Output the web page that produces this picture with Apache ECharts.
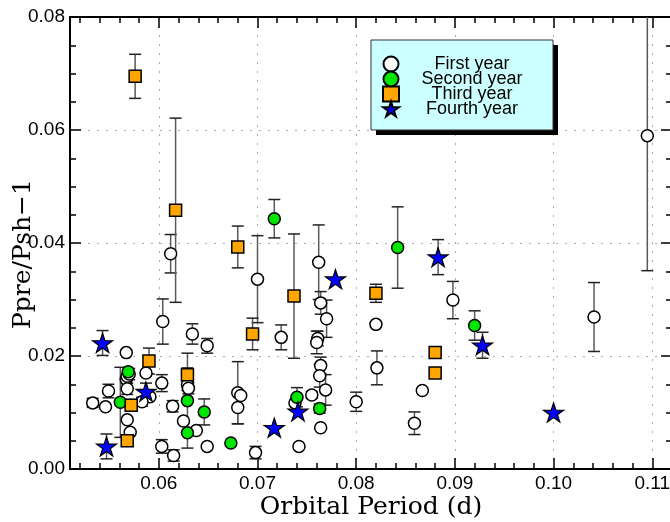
<!DOCTYPE html>
<html>
<head>
<meta charset="utf-8">
<script src="https://cdn.jsdelivr.net/npm/echarts@6/dist/echarts.min.js"></script>
<style>html,body{margin:0;padding:0;background:#fff}#c{width:670px;height:522px}</style>
</head>
<body>
<div id="c"></div>
<script>
// ---- data: [period (d), Ppre/Psh-1, error] ----
const firstX = [0.1095,0.1041,0.0898,0.0820,0.0821,0.0867,0.0859,0.0800,0.0762,0.0764,0.0770,0.0761,0.0760,0.0764,0.0763,0.0769,0.0755,0.0764,0.0742,0.0738,0.0649,0.0724,0.0680,0.0683,0.0680,0.0649,0.0698,0.0638,0.0612,0.0700,0.0604,0.0634,0.0567,0.0567,0.0568,0.0570,0.0587,0.0549,0.0533,0.0546,0.0568,0.0603,0.0591,0.0583,0.0568,0.0571,0.0614,0.0625,0.0603,0.0615,0.0629,0.0630];
const firstY = [0.0590,0.0269,0.0299,0.0256,0.0179,0.0139,0.0081,0.0119,0.0366,0.0294,0.0266,0.0231,0.0224,0.0183,0.0165,0.0140,0.0131,0.0073,0.0040,0.0117,0.0218,0.0233,0.0135,0.0130,0.0109,0.0040,0.0029,0.0068,0.0381,0.0336,0.0261,0.0239,0.0206,0.0159,0.0164,0.0168,0.0170,0.0138,0.0117,0.0110,0.0142,0.0152,0.0128,0.0119,0.0087,0.0065,0.0111,0.0085,0.0040,0.0024,0.0149,0.0143];
const firstE = [0.0239,0.0061,0.0033,0,0.0030,0,0.0020,0.0017,0.0066,0.0020,0.0033,0.0013,0.0020,0.0015,0.0020,0.0027,0.0006,0,0,0,0.0013,0.0022,0.0055,0,0.0029,0,0.0011,0,0.0034,0.0077,0.0040,0.0018,0,0.0008,0,0.0010,0,0.0012,0.0008,0,0.0010,0.0015,0,0.0008,0,0,0.0010,0,0.0012,0.0010,0.0010,0.0010];

const secondX = [0.0717,0.0842,0.0920,0.0763,0.0740,0.0569,0.0561,0.0629,0.0629,0.0646,0.0673];
const secondY = [0.0443,0.0392,0.0254,0.0107,0.0127,0.0172,0.0118,0.0121,0.0064,0.0101,0.0046];
const secondE = [0.0034,0.0072,0.0026,0.0008,0.0017,0,0.0062,0.0084,0,0.0023,0];

const thirdX = [0.0576,0.0617,0.0680,0.0737,0.0695,0.0590,0.0629,0.0572,0.0568,0.0820,0.0880,0.0880];
const thirdY = [0.0695,0.0458,0.0393,0.0306,0.0239,0.0191,0.0167,0.0113,0.0050,0.0311,0.0206,0.0170];
const thirdE = [0.0039,0.0163,0.0037,0.0110,0.0028,0.0023,0.0012,0.0010,0,0.0016,0.0005,0];

const fourthX = [0.0543,0.0547,0.0587,0.0717,0.0741,0.0779,0.0883,0.0928,0.1000];
const fourthY = [0.0223,0.0040,0.0137,0.0073,0.0102,0.0336,0.0375,0.0219,0.0100];
const fourthE = [0.0022,0.0022,0.0015,0,0,0,0.0031,0.0023,0];

const seriesNames = ['First year','Second year','Third year','Fourth year'];
const xMajor = [0.06,0.07,0.08,0.09,0.10,0.11];
const xMinor = [0.052,0.054,0.056,0.058,0.062,0.064,0.066,0.068,0.072,0.074,0.076,0.078,0.082,0.084,0.086,0.088,0.092,0.094,0.096,0.098,0.102,0.104,0.106,0.108];
const XMIN = 0.051, XMAX = 0.112, YMIN = 0, YMAX = 0.08;

const STAR = 'path://M50 0 L61.23 34.55 L97.55 34.55 L68.17 55.9 L79.39 90.45 L50 69.1 L20.61 90.45 L31.83 55.9 L2.45 34.55 L38.77 34.55 Z';

function pts(xs, ys) { return xs.map((x, i) => [x, ys[i]]); }
function errs(xs, ys, es) {
  const out = [];
  xs.forEach((x, i) => { if (es[i] > 0) out.push([x, ys[i], es[i]]); });
  return out;
}
function errRender(params, api) {
  const x = api.value(0), y = api.value(1), e = api.value(2);
  const hiV = Math.min(y + e, YMAX), loV = Math.max(y - e, YMIN);
  const hi = api.coord([x, hiV]), lo = api.coord([x, loV]);
  const hw = 6;
  const ch = [{type:'line', shape:{x1:hi[0],y1:hi[1],x2:lo[0],y2:lo[1]}, style:{stroke:'#5a5a5a', lineWidth:1.5}}];
  if (hiV === y + e) ch.push({type:'line', shape:{x1:hi[0]-hw,y1:hi[1],x2:hi[0]+hw,y2:hi[1]}, style:{stroke:'#222', lineWidth:1.5}});
  if (loV === y - e) ch.push({type:'line', shape:{x1:lo[0]-hw,y1:lo[1],x2:lo[0]+hw,y2:lo[1]}, style:{stroke:'#222', lineWidth:1.5}});
  return {type:'group', children: ch};
}

const labelFont = {fontFamily:'Liberation Sans', fontSize:19, color:'#000'};
const serifName = {fontFamily:'DejaVu Serif', fontSize:25, color:'#000'};
const axLine = {show:true, lineStyle:{color:'#000', width:2}};
const gridDots = {show:true, lineStyle:{color:'#aaa', width:1, type:[2,7]}};

function xAx(pos, values, len, main) {
  return {
    type:'value', position:pos, min:XMIN, max:XMAX,
    axisLine: axLine,
    axisTick:{show:true, inside:true, length:len, customValues:values, lineStyle:{color:'#000', width:1.5}},
    axisLabel: main ? Object.assign({show:true, margin:5, customValues:xMajor, formatter:v=>v.toFixed(2)}, labelFont) : {show:false},
    splitLine: main ? gridDots : {show:false},
    name: main ? 'Orbital Period (d)' : '', nameLocation:'middle', nameGap:26, nameMoveOverlap:false,
    nameTextStyle: serifName
  };
}
function yAx(pos, main) {
  return {
    type:'value', position:pos, min:YMIN, max:YMAX, interval:0.02,
    axisLine: axLine,
    axisTick:{show:true, inside:true, length:11, lineStyle:{color:'#000', width:1.5}},
    minorTick:{show:true, splitNumber:4, length:6, lineStyle:{color:'#000', width:1.5}},
    axisLabel: main ? Object.assign({show:true, margin:5, formatter:v=>v.toFixed(2)}, labelFont) : {show:false},
    splitLine: main ? gridDots : {show:false},
    name: main ? 'Ppre/Psh\u22121' : '', nameLocation:'middle', nameGap:34, nameMoveOverlap:false,
    nameTextStyle: Object.assign({padding:[0,22,0,0]}, serifName)
  };
}

function errSeries(name, data) {
  return {type:'custom', name:name, xAxisIndex:0, yAxisIndex:0, renderItem:errRender, data:data, z:1, silent:true};
}

const legendBase = {
  data: seriesNames, orient:'vertical', left:371, top:40,
  padding:[15,13,12,11], itemGap:-3, itemWidth:16, itemHeight:15,
  formatter:'{a|{name}}',
  textStyle:{fontFamily:'Liberation Sans', fontSize:18, color:'#000', lineHeight:15,
    rich:{a:{width:136, align:'center', fontFamily:'Liberation Sans', fontSize:18, lineHeight:15, color:'#000'}}}
};

const option = {
  animation:false,
  backgroundColor:'#fff',
  grid:{left:70, top:17, width:602, height:452, containLabel:false, outerBoundsMode:'none'},
  xAxis:[xAx('bottom', xMajor, 11, true), xAx('bottom', xMinor, 6, false), xAx('top', xMajor, 11, false), xAx('top', xMinor, 6, false)],
  yAxis:[yAx('left', true), yAx('right', false)],
  legend:[
    Object.assign({}, legendBase, {
      backgroundColor:'#ccffff', borderWidth:0,
      shadowColor:'#000', shadowBlur:0, shadowOffsetX:5, shadowOffsetY:5
    }),
    Object.assign({}, legendBase, {
      backgroundColor:'transparent', borderColor:'#333', borderWidth:1,
      itemStyle:{opacity:0},
      textStyle:{fontFamily:'Liberation Sans', fontSize:18, color:'transparent', lineHeight:15,
        rich:{a:{width:136, align:'center', fontFamily:'Liberation Sans', fontSize:18, lineHeight:15, color:'transparent'}}}
    })
  ],
  series:[
    errSeries('e1', errs(firstX, firstY, firstE)),
    errSeries('e2', errs(secondX, secondY, secondE)),
    errSeries('e3', errs(thirdX, thirdY, thirdE)),
    errSeries('e4', errs(fourthX, fourthY, fourthE)),
    {type:'scatter', name:seriesNames[0], data:pts(firstX, firstY), symbol:'circle', symbolSize:12, z:3,
      itemStyle:{color:'#fff', borderColor:'#000', borderWidth:1.5, opacity:1}},
    {type:'scatter', name:seriesNames[1], data:pts(secondX, secondY), symbol:'circle', symbolSize:12, z:3,
      itemStyle:{color:'#00e600', borderColor:'#000', borderWidth:1.5, opacity:1}},
    {type:'scatter', name:seriesNames[2], data:pts(thirdX, thirdY), symbol:'rect', symbolSize:12, z:3,
      itemStyle:{color:'#ffa500', borderColor:'#000', borderWidth:1.5, opacity:1}},
    {type:'scatter', name:seriesNames[3], data:pts(fourthX, fourthY), symbol:STAR, symbolSize:[20,19], z:3,
      itemStyle:{color:'#0000ff', borderColor:'#000', borderWidth:1.2, opacity:1}}
  ]
};
const chart = echarts.init(document.getElementById('c'), null, {renderer:'canvas'});
chart.setOption(option);
</script>
</body>
</html>
